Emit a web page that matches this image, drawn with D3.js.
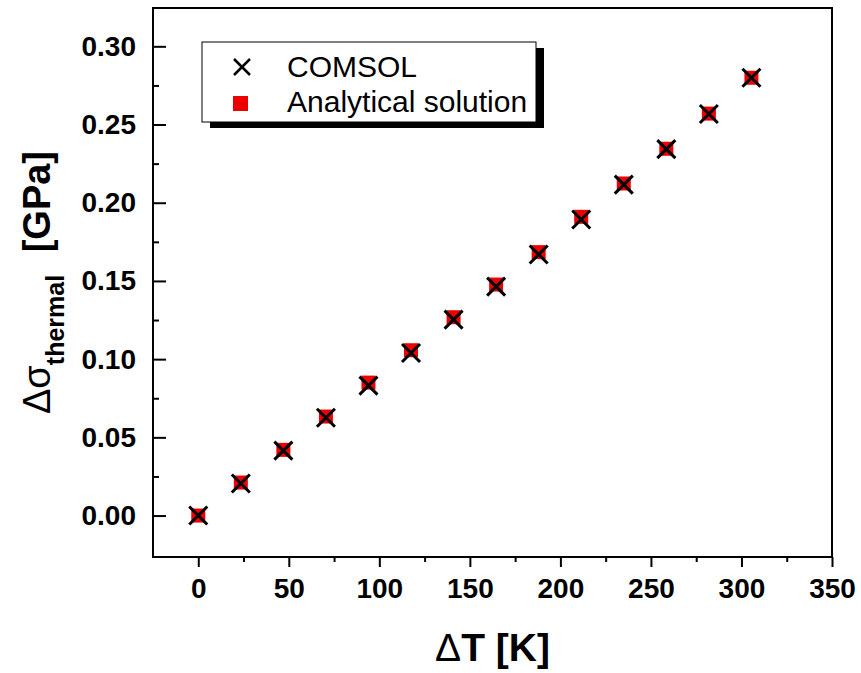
<!DOCTYPE html>
<html>
<head>
<meta charset="utf-8">
<script src="https://cdn.jsdelivr.net/npm/d3@7/dist/d3.min.js"></script>
<style>
  body { margin: 0; background: #fff; }
  svg { display: block; font-family: "Liberation Sans", Arial, sans-serif; }
</style>
</head>
<body>
<div id="container"></div>
<script>
// temperature difference [K]
const deltaT = [0, 23.5, 47, 70.5, 94, 117.5, 141, 164.5, 188, 211.5, 235, 258.5, 282, 305.5];
// thermal stress [GPa]
const comsol = [0, 0.0205, 0.0415, 0.0625, 0.0831, 0.1039, 0.1253, 0.1464, 0.1669, 0.1893, 0.2116, 0.2343, 0.2567, 0.2799];
const analytical = [0, 0.0211, 0.0420, 0.0633, 0.0850, 0.1057, 0.1268, 0.1477, 0.1684, 0.1910, 0.2123, 0.2345, 0.2570, 0.2799];

const xTicks = [0, 50, 100, 150, 200, 250, 300, 350];
const xMinor = [25, 75, 125, 175, 225, 275, 325];
const yTicks = [0, 0.05, 0.10, 0.15, 0.20, 0.25, 0.30];
const yMinor = [0.025, 0.075, 0.125, 0.175, 0.225, 0.275];
const legendItems = ["COMSOL", "Analytical solution"];

const width = 861, height = 673;
const margin = {top: 8, left: 153, right: 29, bottom: 116};

const svg = d3.select("#container")
  .append("svg")
  .attr("width", width)
  .attr("height", height);

const x = d3.scaleLinear()
  .domain([-25, 350])
  .range([margin.left, width - margin.right]);

const y = d3.scaleLinear()
  .domain([-0.0265, 0.3245])
  .range([height - margin.bottom, margin.top]);

const plot = svg.append("g");

// x axis: outward ticks
plot.append("g")
  .attr("transform", "translate(0," + (height - margin.bottom) + ")")
  .call(d3.axisBottom(x).tickValues(xTicks).tickSize(10).tickPadding(11).tickFormat(d3.format("d")));
plot.append("g")
  .attr("transform", "translate(0," + (height - margin.bottom) + ")")
  .call(d3.axisBottom(x).tickValues(xMinor).tickSize(5).tickFormat(""));

// y axis: inward ticks
plot.append("g")
  .attr("transform", "translate(" + margin.left + ",0)")
  .call(d3.axisLeft(y).tickValues(yTicks).tickSize(-13).tickPadding(17).tickFormat(d3.format(".2f")));
plot.append("g")
  .attr("transform", "translate(" + margin.left + ",0)")
  .call(d3.axisLeft(y).tickValues(yMinor).tickSize(-6).tickFormat(""));

plot.selectAll(".domain").remove();
plot.selectAll(".tick line").attr("stroke", "#000").attr("stroke-width", 2);
plot.selectAll(".tick text")
  .attr("fill", "#000")
  .style("font-size", "28px")
  .style("font-weight", "bold");

// frame
plot.append("rect")
  .attr("x", x(-25))
  .attr("y", y(0.3245))
  .attr("width", x(350) - x(-25))
  .attr("height", y(-0.0265) - y(0.3245))
  .attr("fill", "none")
  .attr("stroke", "#000")
  .attr("stroke-width", 2);

// points
const pts = d3.range(deltaT.length);
const sq = 14, cr = 9;

plot.append("g").selectAll("rect")
  .data(pts)
  .enter()
  .append("rect")
  .attr("x", i => x(deltaT[i]) - sq / 2)
  .attr("y", i => y(analytical[i]) - sq / 2)
  .attr("width", sq)
  .attr("height", sq)
  .attr("fill", "#ee0000");

plot.append("g").selectAll("path")
  .data(pts)
  .enter()
  .append("path")
  .attr("d", i => {
    const cx = x(deltaT[i]), cy = y(comsol[i]);
    return "M" + (cx - cr) + "," + (cy - cr) + "L" + (cx + cr) + "," + (cy + cr) +
      "M" + (cx - cr) + "," + (cy + cr) + "L" + (cx + cr) + "," + (cy - cr);
  })
  .attr("stroke", "#000")
  .attr("stroke-width", 3)
  .attr("fill", "none");

// legend
const legend = svg.append("g").attr("transform", "translate(202,42)");
legend.append("rect")
  .attr("x", 8).attr("y", 6)
  .attr("width", 334).attr("height", 80)
  .attr("fill", "#000");
legend.append("rect")
  .attr("width", 334).attr("height", 80)
  .attr("fill", "#fff")
  .attr("stroke", "#000")
  .attr("stroke-width", 1);

legend.append("path")
  .attr("d", "M32,17L48,33M32,33L48,17")
  .attr("stroke", "#000")
  .attr("stroke-width", 2.5);
legend.append("rect")
  .attr("x", 31).attr("y", 54)
  .attr("width", 15).attr("height", 15)
  .attr("fill", "#ee0000");

legend.selectAll("text.lbl")
  .data(legendItems)
  .enter()
  .append("text")
  .attr("class", "lbl")
  .attr("x", 85)
  .attr("y", (d, i) => 35 + i * 35)
  .style("font-size", "30px")
  .text(d => d);

// axis titles
svg.append("text")
  .attr("x", (x(-25) + x(350)) / 2)
  .attr("y", 661)
  .attr("text-anchor", "middle")
  .style("font-size", "39px")
  .style("font-weight", "bold")
  .html('<tspan style="font-weight:normal">Δ</tspan>T [K]');

const yTitle = svg.append("text")
  .attr("transform", "translate(50," + ((y(-0.0265) + y(0.3245)) / 2) + ") rotate(-90)")
  .attr("text-anchor", "middle")
  .style("font-size", "38px")
  .style("font-weight", "bold");
yTitle.append("tspan").style("font-weight", "normal").text("Δσ");
yTitle.append("tspan").attr("dy", 14).style("font-size", "25px").text("thermal");
yTitle.append("tspan").attr("dy", -14).attr("dx", 12).text(" [GPa]");
</script>
</body>
</html>
